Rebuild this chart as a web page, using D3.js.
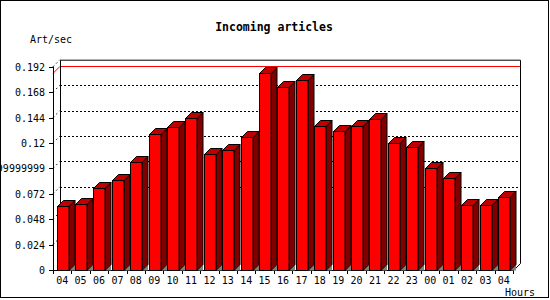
<!DOCTYPE html>
<html><head><meta charset="utf-8">
<script src="https://cdn.jsdelivr.net/npm/d3@7"></script>
<style>body{margin:0;background:#fff}svg{display:block}text{font-family:"DejaVu Sans Mono",monospace}</style>
</head><body>
<svg id="c" width="550" height="300"></svg>
<script>
const hours = ["04","05","06","07","08","09","10","11","12","13","14","15","16","17","18","19","20","21","22","23","00","01","02","03","04"];
const values = [0.0604,0.0623,0.0774,0.0850,0.1017,0.1284,0.1347,0.1432,0.1092,0.1130,0.1253,0.1857,0.1725,0.1791,0.1357,0.1310,0.1357,0.1423,0.1196,0.1159,0.0960,0.0866,0.0611,0.0611,0.0687];
const tickValues = [0,0.024,0.048,0.072,0.096,0.12,0.144,0.168,0.192];
const tickLabels = ["0","0.024","0.048","0.072","0.09599999999999999","0.12","0.144","0.168","0.192"];
const gridValues = [0.072,0.096,0.12,0.144,0.168];

const svg = d3.select("#c");
const L = 53, R = 513, B = 270, T = 66.7;
const ad = 7;   // axis depth
const bd = 6;   // bar depth
const x = d3.scaleBand().domain(d3.range(hours.length)).range([L, R]).paddingInner(0).paddingOuter(0);
const y = d3.scaleLinear().domain([0, 0.192]).range([B, T]);

svg.append("rect").attr("x",0.5).attr("y",0.5).attr("width",548).attr("height",297).attr("fill","#fff").attr("stroke","#000");

svg.append("text").attr("x",274).attr("y",31).attr("text-anchor","middle").attr("font-size","11.5px").attr("font-weight","bold").text("Incoming articles");
svg.append("text").attr("x",30).attr("y",43).attr("font-size","10px").text("Art/sec");
svg.append("text").attr("x",505).attr("y",296).attr("font-size","10px").text("Hours");

const g = svg.append("g");
// gridlines on back wall
gridValues.forEach(v=>{
  const yy = Math.round(y(v)-ad)+0.5;
  g.append("line").attr("x1",L+ad).attr("x2",R+ad).attr("y1",yy).attr("y2",yy).attr("stroke","#000").attr("stroke-dasharray","2,2");
});
// diagonal tick connectors
tickValues.forEach(v=>{
  if (v===0) return;
  g.append("line").attr("x1",L).attr("y1",y(v)).attr("x2",L+ad).attr("y2",y(v)-ad).attr("stroke","#000").attr("stroke-dasharray","1.5,3");
});
// max line
const mx = d3.max(values);
const my = Math.round(y(mx)-ad)+0.5;
g.append("line").attr("x1",L+ad).attr("x2",R+ad).attr("y1",my).attr("y2",my).attr("stroke","#f00");
g.append("line").attr("x1",L).attr("y1",y(mx)).attr("x2",L+ad).attr("y2",y(mx)-ad).attr("stroke","#f00");

// back wall frame
g.append("path").attr("d",`M${L+ad+0.5},${B-ad}V${T-ad+0.5}H${R+ad+0.5}V${B-ad+0.5}L${R+0.5},${B+0.5}`).attr("fill","none").attr("stroke","#000");
// front axis
g.append("path").attr("d",`M${L+0.5},${T}V${B+0.5}H${R+0.5}`).attr("fill","none").attr("stroke","#000");
// y ticks + labels
tickValues.forEach((v,i)=>{
  const yy = Math.round(y(v))+0.5;
  g.append("line").attr("x1",L-4).attr("x2",L).attr("y1",yy).attr("y2",yy).attr("stroke","#000");
  g.append("text").attr("x",45).attr("y",yy+3.5).attr("text-anchor","end").attr("font-size","10px").text(tickLabels[i]);
});
// x ticks + labels
d3.range(hours.length+1).forEach(i=>{
  const xx = Math.round(L + i*x.bandwidth())+0.5;
  g.append("line").attr("x1",xx).attr("x2",xx).attr("y1",B).attr("y2",B+4).attr("stroke","#000");
});
hours.forEach((h,i)=>{
  g.append("text").attr("x",x(i)+x.bandwidth()/2).attr("y",284).attr("text-anchor","middle").attr("font-size","10px").text(h);
});

// bars
const bars = g.append("g");
values.forEach((v,i)=>{
  const x0 = Math.round(x(i)+3.5)+0.5, x1 = x0+11.5, yt = Math.round(y(v))+0.5, yb = B+0.5;
  // shadow triangle
  bars.append("path").attr("d",`M${x1},${yb}L${x1+bd},${yb-bd}V${yb}Z`).attr("fill","#808080");
  // side
  bars.append("path").attr("d",`M${x1},${yb}V${yt}L${x1+bd},${yt-bd}V${yb-bd}Z`).attr("fill","#800000").attr("stroke","#000");
  // top
  bars.append("path").attr("d",`M${x0},${yt}L${x0+bd},${yt-bd}H${x1+bd}L${x1},${yt}Z`).attr("fill","#c00000").attr("stroke","#000");
  // front
  bars.append("rect").attr("x",x0).attr("y",yt).attr("width",x1-x0).attr("height",yb-yt).attr("fill","#ff0000").attr("stroke","#000");
});
</script>
</body></html>
